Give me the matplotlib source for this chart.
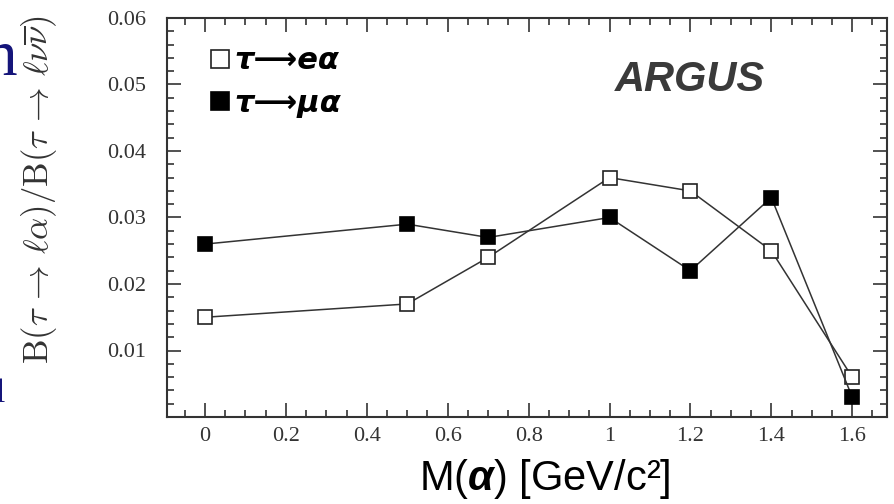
import matplotlib.pyplot as plt
from matplotlib.ticker import MultipleLocator

# values
mass = [0, 0.5, 0.7, 1.0, 1.2, 1.4, 1.6]
ratio_e = [0.015, 0.017, 0.024, 0.036, 0.034, 0.025, 0.006]
ratio_mu = [0.026, 0.029, 0.027, 0.030, 0.022, 0.033, 0.003]
xticks = [0, 0.2, 0.4, 0.6, 0.8, 1.0, 1.2, 1.4, 1.6]
xticklabels = ["0", "0.2", "0.4", "0.6", "0.8", "1", "1.2", "1.4", "1.6"]
yticks = [0.01, 0.02, 0.03, 0.04, 0.05, 0.06]

plt.rcParams["mathtext.fontset"] = "custom"
plt.rcParams["mathtext.rm"] = "Liberation Sans"
plt.rcParams["mathtext.bfit"] = "Liberation Sans:italic:bold"

fig = plt.figure(figsize=(8.95, 5.04), dpi=100)
ax = fig.add_axes([167 / 895, 1 - 417 / 504, 720 / 895, 399 / 504])

line_col = "#333333"
ax.plot(mass, ratio_e, color=line_col, lw=1.1, marker="s", ms=9.5,
        mfc="white", mec="#222222", mew=1.2, label="τ⟶eα", zorder=3)
ax.plot(mass, ratio_mu, color=line_col, lw=1.1, marker="s", ms=9.5,
        mfc="black", mec="black", mew=1.2, label="τ⟶μα", zorder=3)

ax.set_xlim(-0.094, 1.686)
ax.set_ylim(0, 0.06)
ax.set_xticks(xticks)
ax.set_xticklabels(xticklabels)
ax.set_yticks(yticks)
ax.xaxis.set_minor_locator(MultipleLocator(0.05))
ax.yaxis.set_minor_locator(MultipleLocator(0.002))
ax.tick_params(which="both", direction="in", top=True, right=True,
               colors="#333333", labelcolor="#333333", width=1.2)
ax.tick_params(which="major", length=10)
ax.tick_params(which="minor", length=5)
ax.tick_params(axis="x", which="major", pad=7)
ax.tick_params(axis="y", which="major", pad=15)
for lab in ax.get_xticklabels() + ax.get_yticklabels():
    lab.set_fontfamily("Liberation Serif")
    lab.set_fontsize(16)
for sp in ax.spines.values():
    sp.set_color("#333333")
    sp.set_linewidth(1.5)

leg = ax.legend(loc="upper left", bbox_to_anchor=(0.036, 0.975), frameon=False,
                handlelength=0.6, handletextpad=0.15, labelspacing=0.45,
                borderaxespad=0.2, markerscale=1.4,
                prop={"family": "DejaVu Sans", "weight": "bold",
                      "style": "italic", "size": 22})
for h in leg.legend_handles:
    h.set_linestyle("none")

ax.text(0.726, 0.845, "ARGUS", transform=ax.transAxes, ha="center", va="center",
        fontsize=30, fontweight="bold", fontstyle="italic",
        family="Liberation Sans", color="#3a3a3a")

ax.set_xlabel(r"M($\mathbfit{\alpha}$) [GeV/c²]", family="Liberation Sans",
              fontsize=30)
ax.xaxis.set_label_coords(0.524, -0.1)
ax.set_ylabel(r"$\mathrm{B}(\tau\,\rightarrow\,\ell\alpha)/\mathrm{B}(\tau\,\rightarrow\,\ell\nu\overline{\nu})$",
              math_fontfamily="cm", fontsize=25, color="#333333")
ax.yaxis.set_label_coords(-0.15, 0.57)

# bits of slide text cut off at the left edge
fig.text(17 / 895, 1 - 75 / 504, "n", ha="right", va="baseline",
         family="Liberation Serif", fontsize=47, color="#15157a")
fig.text(5 / 895, 1 - 402 / 504, "l", ha="right", va="baseline",
         family="Liberation Serif", fontsize=24, color="#15157a")

fig.savefig("out.png", dpi=100)
